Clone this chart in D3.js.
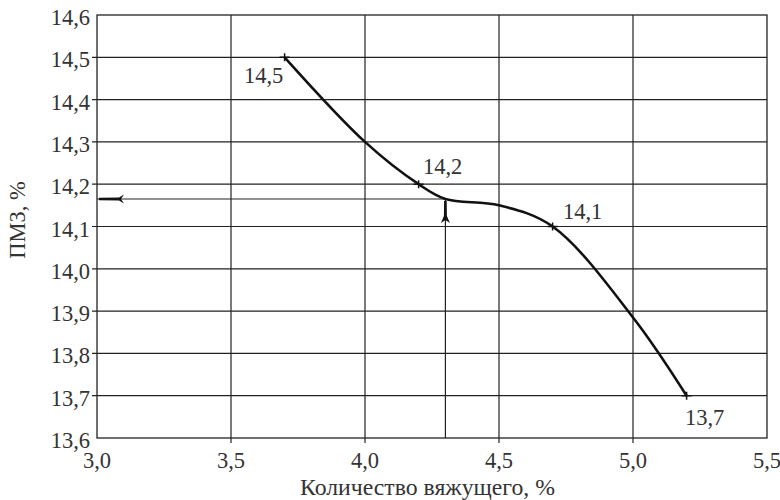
<!DOCTYPE html>
<html><head><meta charset="utf-8">
<script src="https://cdn.jsdelivr.net/npm/d3@7"></script>
<style>body{margin:0;background:#fff}svg{display:block}text{font-family:"Liberation Serif","Times New Roman",serif;fill:#333}</style>
</head><body><svg id="c" width="780" height="500"></svg>
<script>
const xTicks=[3.0,3.5,4.0,4.5,5.0,5.5];
const yTicks=[13.6,13.7,13.8,13.9,14.0,14.1,14.2,14.3,14.4,14.5,14.6];
const curveX=[3.7,4.0,4.2,4.3,4.5,4.7,5.0,5.2];
const curveY=[14.5,14.3,14.2,14.165,14.15,14.1,13.885,13.7];
const labelX=[3.7,4.2,4.7,5.2];
const labelY=[14.5,14.2,14.1,13.7];
const labelText=["14,5","14,2","14,1","13,7"];
const guideX=4.3, guideY=14.165;
const xTitle="Количество вяжущего, %";
const yTitle="ПМЗ, %";
const fmt=d=>d.toFixed(1).replace(".",",");

const svg=d3.select("#c");
const L=97,R=767,T=15,B=438;
const FS=22.5;
const x=d3.scaleLinear().domain([3.0,5.5]).range([L,R]);
const y=d3.scaleLinear().domain([13.6,14.6]).range([B,T]);
const g=svg.append("g");
// grid
g.selectAll(".gx").data(xTicks.slice(1,-1)).join("line").attr("x1",d=>x(d)).attr("x2",d=>x(d)).attr("y1",T).attr("y2",B+5).attr("stroke","#222").attr("stroke-width",1.2);
g.selectAll(".gy").data(yTicks.slice(1,-1)).join("line").attr("x1",L-5).attr("x2",R).attr("y1",d=>y(d)).attr("y2",d=>y(d)).attr("stroke","#222").attr("stroke-width",1.2);
g.append("rect").attr("x",L).attr("y",T).attr("width",R-L).attr("height",B-T).attr("fill","none").attr("stroke","#222").attr("stroke-width",1.3);
// tick labels
g.selectAll(".tx").data(xTicks).join("text").attr("x",d=>x(d)).attr("y",468).attr("text-anchor","middle").attr("font-size",FS).text(fmt);
g.selectAll(".ty").data(yTicks).join("text").attr("x",90).attr("y",d=>y(d)+10).attr("text-anchor","end").attr("font-size",FS).text(fmt);
svg.append("text").attr("x",300).attr("y",495).attr("font-size",FS).attr("textLength",255).attr("lengthAdjust","spacingAndGlyphs").text(xTitle);
svg.append("text").attr("transform","translate(25,220) rotate(-90)").attr("text-anchor","middle").attr("font-size",FS).text(yTitle);
// guides
g.append("line").attr("x1",x(guideX)).attr("x2",x(3.0)).attr("y1",y(guideY)).attr("y2",y(guideY)).attr("stroke","#222").attr("stroke-width",1.2);
g.append("line").attr("x1",x(guideX)).attr("x2",x(guideX)).attr("y1",y(guideY)).attr("y2",B).attr("stroke","#222").attr("stroke-width",1.2);
// elongated arrow heads
const hx=x(3.0)+2, hy=y(guideY);
g.append("path").attr("d",`M${hx},${hy-1.3} L${hx+20},${hy-1.5} L${hx+25},${hy-4.5} L${hx+22},${hy} L${hx+25},${hy+4.5} L${hx+20},${hy+1.5} L${hx},${hy+1.3}Z`).attr("fill","#111");
const vx=x(guideX), vy=y(guideY)+2;
g.append("path").attr("d",`M${vx-1.3},${vy} L${vx-1.5},${vy+15} L${vx-4.5},${vy+22} L${vx},${vy+19} L${vx+4.5},${vy+22} L${vx+1.5},${vy+15} L${vx+1.3},${vy}Z`).attr("fill","#111");
// curve
const pts=curveX.map((d,i)=>[d,curveY[i]]);
g.append("path").datum(pts).attr("d",d3.line().x(d=>x(d[0])).y(d=>y(d[1])).curve(d3.curveCatmullRom.alpha(0.5))).attr("fill","none").attr("stroke","#111").attr("stroke-width",2.6);
// markers
const mk=labelX.map((d,i)=>[d,labelY[i]]);
g.selectAll(".mk").data(mk).join("path").attr("d",d=>{const a=x(d[0]),b=y(d[1]);return `M${a-5},${b}H${a+5}M${a},${b-4}V${b+4}`}).attr("stroke","#111").attr("stroke-width",1.5);
// labels
const off=[[-21,26],[24,-10],[30,-8],[18,29]];
g.selectAll(".lb").data(mk).join("text").attr("x",(d,i)=>x(d[0])+off[i][0]).attr("y",(d,i)=>y(d[1])+off[i][1]).attr("text-anchor","middle").attr("font-size",FS).text((d,i)=>labelText[i]);
</script></body></html>
